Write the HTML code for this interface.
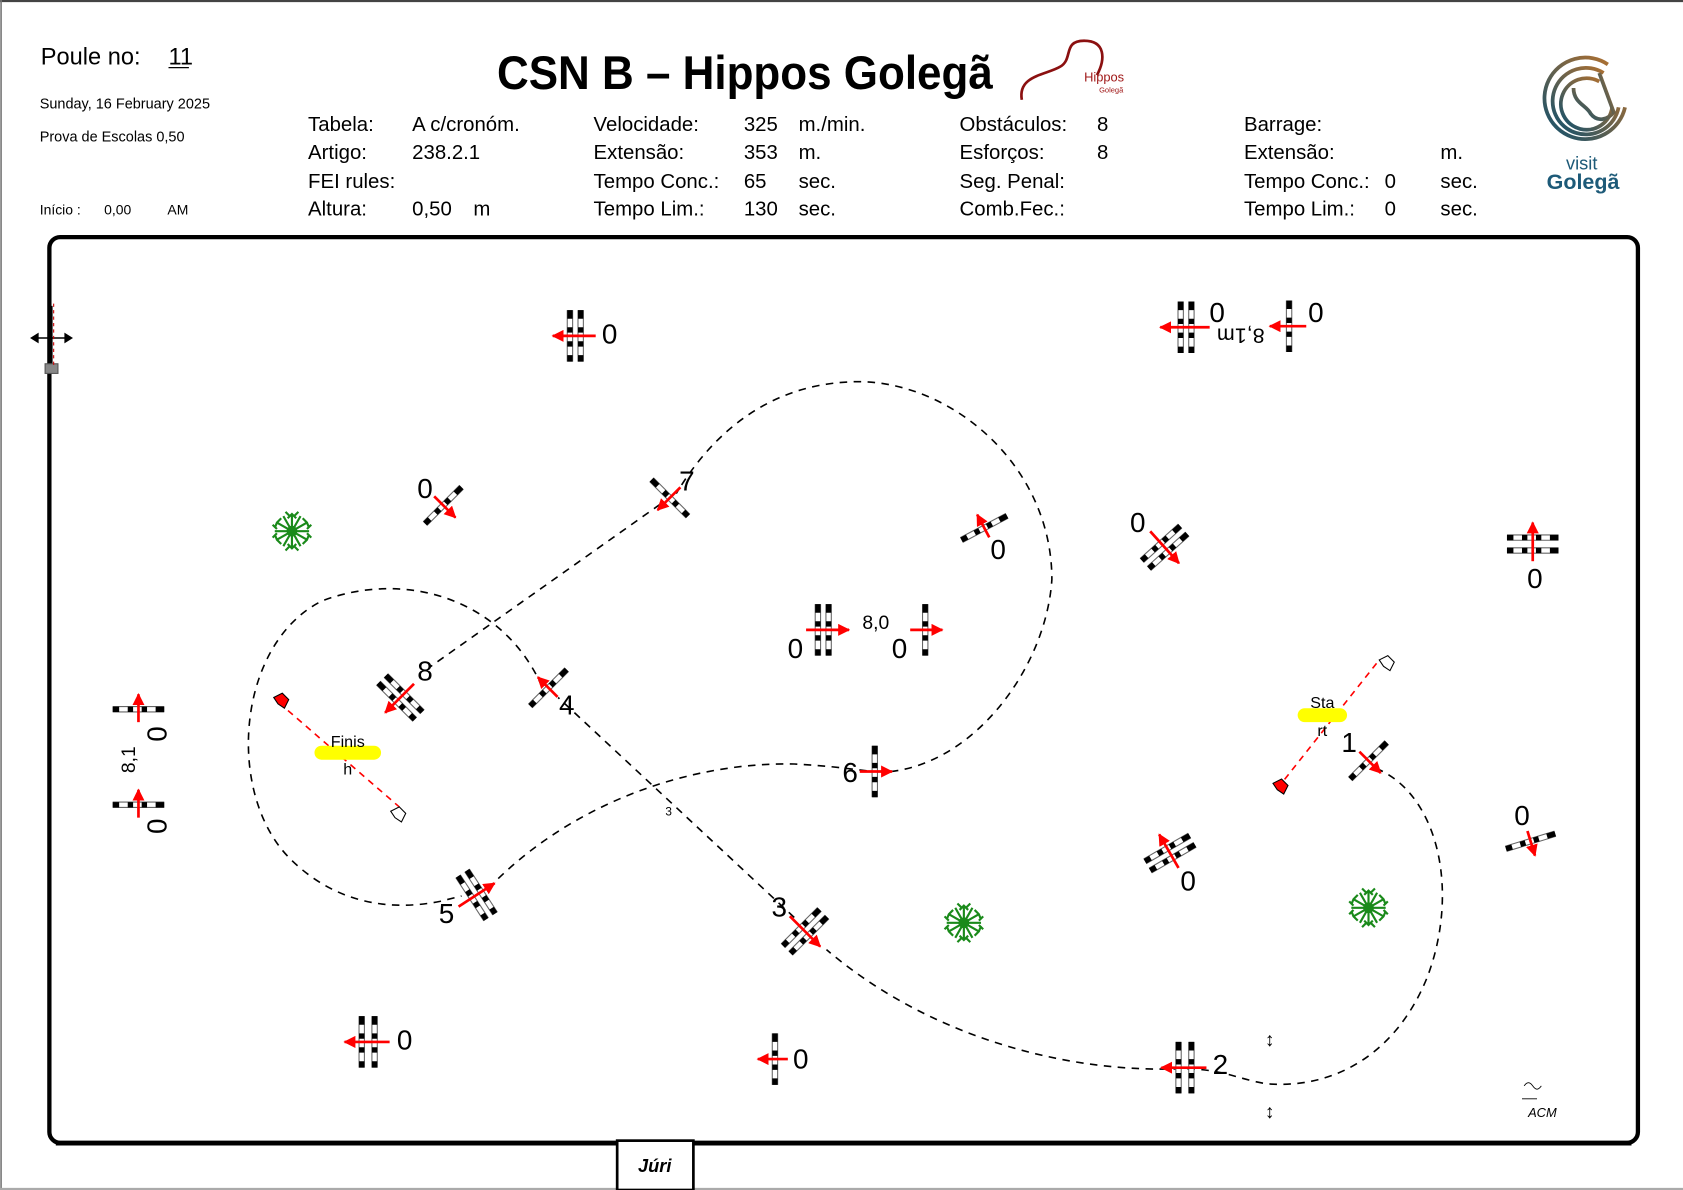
<!DOCTYPE html>
<html><head><meta charset="utf-8"><style>
html,body{margin:0;padding:0;background:#fff;}
svg{display:block;}
text{font-family:"Liberation Sans",sans-serif;}
</style></head><body>
<svg width="1683" height="1190" viewBox="0 0 1568 1109" preserveAspectRatio="none" xmlns="http://www.w3.org/2000/svg">
<defs>
<marker id="ah" viewBox="0 0 10 10" refX="9" refY="5" markerWidth="4.5" markerHeight="4.5" orient="auto"><path d="M0,0 L10,5 L0,10 z" fill="#f00"/></marker>
<linearGradient id="lg" x1="0" y1="1" x2="1" y2="0"><stop offset="0" stop-color="#0f4f6e"/><stop offset="1" stop-color="#c0742a"/></linearGradient>
<g id="pole"><line x1="0" y1="-24" x2="0" y2="24" stroke="#666" stroke-width="6"/><line x1="0" y1="-23" x2="0" y2="23" stroke="#fff" stroke-width="4"/><line x1="0" y1="-24" x2="0" y2="24" stroke="#000" stroke-width="5" stroke-dasharray="8 8 5 8 5 8 8"/></g>
<g id="tree" fill="none" stroke="#1a8a1a" stroke-width="2"><circle r="4" fill="#0a5a0a"/><path d="M0,0 L0,-16 M0,0 L14,-8 M0,0 L14,8 M0,0 L0,16 M0,0 L-14,8 M0,0 L-14,-8 M0,0 L8,-14 M0,0 L16,0 M0,0 L8,14 M0,0 L-8,14 M0,0 L-16,0 M0,0 L-8,-14 M-4,-12 L0,-16 L4,-12 M10,-12 L14,-8 L16,-3 M16,3 L14,8 L10,12 M4,12 L0,16 L-4,12 M-10,12 L-14,8 L-16,3 M-16,-3 L-14,-8 L-10,-12 M-6,-18 L-2,-14 M6,-18 L2,-14 M18,-6 L14,-2 M18,6 L14,2 M-18,-6 L-14,-2 M-18,6 L-14,2 M-6,18 L-2,14 M6,18 L2,14"/></g>
</defs>
<rect x="0" y="0" width="1568" height="1109" fill="#fff"/>
<line x1="0" y1="1" x2="1568" y2="1" stroke="#444" stroke-width="2"/>
<line x1="1" y1="0" x2="1" y2="1109" stroke="#777" stroke-width="1.5"/>
<line x1="0" y1="1108" x2="1568" y2="1108" stroke="#aaa" stroke-width="2"/>

<!-- header -->
<text x="38" y="60" font-size="22">Poule no:</text>
<text x="157" y="60" font-size="22">11</text>
<line x1="157" y1="63" x2="176" y2="63" stroke="#000" stroke-width="1.2"/>
<text x="37" y="101" font-size="13.5">Sunday, 16 February 2025</text>
<text x="37" y="132" font-size="13.5">Prova de Escolas 0,50</text>
<text x="37" y="200" font-size="13">Início :</text>
<text x="97" y="200" font-size="13">0,00</text>
<text x="156" y="200" font-size="13">AM</text>
<text x="463" y="83" font-size="44" font-weight="bold" textLength="462" lengthAdjust="spacingAndGlyphs">CSN B – Hippos Golegã</text>
<path d="M952,93 C948,70 975,70 988,62 C1000,55 990,38 1010,38 C1030,38 1030,55 1022,70" fill="none" stroke="#8b1010" stroke-width="2.5"/>
<text x="1010" y="76" font-size="12" fill="#a01818">Hippos</text>
<text x="1024" y="86" font-size="7" fill="#a01818">Golegã</text>
<g font-size="19">
<text x="287" y="122">Tabela:</text><text x="384" y="122">A c/cronóm.</text>
<text x="287" y="148">Artigo:</text><text x="384" y="148">238.2.1</text>
<text x="287" y="175">FEI rules:</text>
<text x="287" y="201">Altura:</text><text x="384" y="201">0,50</text><text x="441" y="201">m</text>
<text x="553" y="122">Velocidade:</text><text x="693" y="122">325</text><text x="744" y="122">m./min.</text>
<text x="553" y="148">Extensão:</text><text x="693" y="148">353</text><text x="744" y="148">m.</text>
<text x="553" y="175">Tempo Conc.:</text><text x="693" y="175">65</text><text x="744" y="175">sec.</text>
<text x="553" y="201">Tempo Lim.:</text><text x="693" y="201">130</text><text x="744" y="201">sec.</text>
<text x="894" y="122">Obstáculos:</text><text x="1022" y="122">8</text>
<text x="894" y="148">Esforços:</text><text x="1022" y="148">8</text>
<text x="894" y="175">Seg. Penal:</text>
<text x="894" y="201">Comb.Fec.:</text>
<text x="1159" y="122">Barrage:</text>
<text x="1159" y="148">Extensão:</text><text x="1342" y="148">m.</text>
<text x="1159" y="175">Tempo Conc.:</text><text x="1290" y="175">0</text><text x="1342" y="175">sec.</text>
<text x="1159" y="201">Tempo Lim.:</text><text x="1290" y="201">0</text><text x="1342" y="201">sec.</text>
</g>
<g fill="none" stroke="url(#lg)" stroke-width="3.5">
<path d="M1498,60 A38,38 0 1 0 1514,100"/>
<path d="M1494,68 A31,31 0 1 0 1508,100"/>
<path d="M1490,76 A24,24 0 1 0 1502,100"/>
<path d="M1466,82 C1466,96 1478,98 1482,106 C1488,114 1498,112 1504,104"/>
<path d="M1490,68 L1504,106"/>
</g>
<text x="1459" y="158" font-size="17" fill="#1d5a78">visit</text>
<text x="1441" y="176" font-size="20" font-weight="bold" fill="#1d5a78">Golegã</text>

<!-- arena -->
<rect x="46" y="221" width="1480" height="844" rx="10" fill="none" stroke="#000" stroke-width="4"/>
<line x1="52" y1="1066" x2="1520" y2="1066" stroke="#000" stroke-width="3"/>
<rect x="575" y="1063" width="71" height="46" fill="#fff" stroke="#000" stroke-width="2.5"/>
<text x="610" y="1092" font-size="17" font-style="italic" font-weight="bold" text-anchor="middle" font-family="Liberation Serif">Júri</text>

<!-- top-left icon -->
<line x1="48" y1="285" x2="48" y2="345" stroke="#000" stroke-width="2"/>
<line x1="30" y1="315" x2="66" y2="315" stroke="#000" stroke-width="1.5"/>
<path d="M28,315 L36,310 L36,320 z M68,315 L60,310 L60,320 z" fill="#000"/>
<rect x="42" y="339" width="12" height="9" fill="#888" stroke="#555"/>
<line x1="50" y1="283" x2="50" y2="340" stroke="#c00" stroke-width="1" stroke-dasharray="3 3"/>

<!-- course path -->
<g fill="none" stroke="#000" stroke-width="1.5" stroke-dasharray="7 6">
<path d="M1282,716 C1340,740 1360,830 1330,910 C1300,985 1240,1015 1180,1010 C1150,1005 1140,996 1100,996 C1000,1000 870,970 770,885"/>
<path d="M740,855 L520,650"/>
<path d="M505,640 C470,560 380,530 300,560 C220,600 210,740 270,800 C310,840 360,850 410,840 L430,835"/>
<path d="M455,828 C530,750 640,710 740,712 C780,714 800,718 815,719"/>
<path d="M830,719 C910,710 975,620 980,540 C980,430 880,350 790,356 C710,360 660,410 630,460"/>
<path d="M615,470 L400,622"/>
</g>
<text x="623" y="760" font-size="11" text-anchor="middle">3</text>

<!-- start / finish -->
<line x1="1190" y1="735" x2="1285" y2="615" stroke="#f00" stroke-width="1.5" stroke-dasharray="6 5"/>
<path d="M1186,730 l8,-4 l6,6 l-4,8 l-6,-4 z" fill="#f00" stroke="#000" stroke-width="1"/>
<path d="M1285,615 l8,-4 l6,6 l-4,8 l-6,-4 z" fill="#fff" stroke="#000" stroke-width="1"/>
<rect x="1209" y="660" width="46" height="13" rx="6.5" fill="#ff0"/>
<text x="1232" y="660" font-size="15" text-anchor="middle">Sta</text>
<text x="1232" y="686" font-size="15" text-anchor="middle">rt</text>
<line x1="260" y1="655" x2="372" y2="752" stroke="#f00" stroke-width="1.5" stroke-dasharray="6 5"/>
<path d="M255,650 l8,-4 l6,6 l-4,8 l-6,-4 z" fill="#f00" stroke="#000" stroke-width="1"/>
<path d="M364,756 l8,-4 l6,6 l-4,8 l-6,-4 z" fill="#fff" stroke="#000" stroke-width="1"/>
<rect x="293" y="695" width="62" height="13" rx="6.5" fill="#ff0"/>
<text x="324" y="696" font-size="15" text-anchor="middle">Finis</text>
<text x="324" y="722" font-size="15" text-anchor="middle">h</text>

<!-- obstacles -->
<g transform="translate(536,313)"><use href="#pole" x="-5"/><use href="#pole" x="5"/><line x1="19" y1="0" x2="-21" y2="0" stroke="#f00" stroke-width="2.5" marker-end="url(#ah)"/></g>
<text x="568" y="320" font-size="26" text-anchor="middle">0</text>
<g transform="translate(1105,305)"><use href="#pole" x="-5"/><use href="#pole" x="5"/><line x1="22" y1="0" x2="-24" y2="0" stroke="#f00" stroke-width="2.5" marker-end="url(#ah)"/></g>
<g transform="translate(1201,304)"><use href="#pole"/><line x1="16" y1="0" x2="-18" y2="0" stroke="#f00" stroke-width="2.5" marker-end="url(#ah)"/></g>
<text x="1134" y="300" font-size="26" text-anchor="middle">0</text>
<text x="1226" y="300" font-size="26" text-anchor="middle">0</text>
<text transform="translate(1156,306) rotate(180)" font-size="20" text-anchor="middle">8,1m</text>
<g transform="translate(413,471) rotate(45)"><use href="#pole"/><line x1="-12" y1="0" x2="16" y2="0" stroke="#f00" stroke-width="2.5" marker-end="url(#ah)"/></g>
<text x="396" y="464" font-size="26" text-anchor="middle">0</text>
<g transform="translate(624,464) rotate(-45)"><use href="#pole"/><line x1="14" y1="0" x2="-16" y2="0" stroke="#f00" stroke-width="2.5" marker-end="url(#ah)"/></g>
<text x="640" y="457" font-size="26" text-anchor="middle">7</text>
<g transform="translate(917,492) rotate(62)"><use href="#pole"/><line x1="10" y1="0" x2="-14" y2="0" stroke="#f00" stroke-width="2.5" marker-end="url(#ah)"/></g>
<text x="930" y="521" font-size="26" text-anchor="middle">0</text>
<g transform="translate(1085,510) rotate(48)"><use href="#pole" x="-5"/><use href="#pole" x="5"/><line x1="-20" y1="0" x2="20" y2="0" stroke="#f00" stroke-width="2.5" marker-end="url(#ah)"/></g>
<text x="1060" y="496" font-size="26" text-anchor="middle">0</text>
<g transform="translate(1428,507) rotate(90)"><use href="#pole" x="-6"/><use href="#pole" x="6"/><line x1="16" y1="0" x2="-20" y2="0" stroke="#f00" stroke-width="2.5" marker-end="url(#ah)"/></g>
<text x="1430" y="548" font-size="26" text-anchor="middle">0</text>
<g transform="translate(767,587)"><use href="#pole" x="-5"/><use href="#pole" x="5"/><line x1="-16" y1="0" x2="24" y2="0" stroke="#f00" stroke-width="2.5" marker-end="url(#ah)"/></g>
<g transform="translate(862,587)"><use href="#pole"/><line x1="-14" y1="0" x2="16" y2="0" stroke="#f00" stroke-width="2.5" marker-end="url(#ah)"/></g>
<text x="741" y="613" font-size="26" text-anchor="middle">0</text>
<text x="838" y="613" font-size="26" text-anchor="middle">0</text>
<text x="816" y="586" font-size="18" text-anchor="middle">8,0</text>
<g transform="translate(373,650) rotate(-45)"><use href="#pole" x="-5"/><use href="#pole" x="5"/><line x1="18" y1="0" x2="-20" y2="0" stroke="#f00" stroke-width="2.5" marker-end="url(#ah)"/></g>
<text x="396" y="634" font-size="26" text-anchor="middle">8</text>
<g transform="translate(511,641) rotate(45)"><use href="#pole"/><line x1="12" y1="0" x2="-14" y2="0" stroke="#f00" stroke-width="2.5" marker-end="url(#ah)"/></g>
<text x="528" y="666" font-size="26" text-anchor="middle">4</text>
<g transform="translate(1275,709) rotate(45)"><use href="#pole"/><line x1="-12" y1="0" x2="16" y2="0" stroke="#f00" stroke-width="2.5" marker-end="url(#ah)"/></g>
<text x="1257" y="701" font-size="26" text-anchor="middle">1</text>
<g transform="translate(129,661) rotate(90)"><use href="#pole"/><line x1="12" y1="0" x2="-14" y2="0" stroke="#f00" stroke-width="2.5" marker-end="url(#ah)"/></g>
<g transform="translate(129,750) rotate(90)"><use href="#pole"/><line x1="12" y1="0" x2="-14" y2="0" stroke="#f00" stroke-width="2.5" marker-end="url(#ah)"/></g>
<text transform="translate(155,684) rotate(-90)" font-size="26" text-anchor="middle">0</text>
<text transform="translate(155,770) rotate(-90)" font-size="26" text-anchor="middle">0</text>
<text transform="translate(126,708) rotate(-90)" font-size="18" text-anchor="middle">8,1</text>
<g transform="translate(815,719)"><use href="#pole"/><line x1="-14" y1="0" x2="16" y2="0" stroke="#f00" stroke-width="2.5" marker-end="url(#ah)"/></g>
<text x="792" y="729" font-size="26" text-anchor="middle">6</text>
<g transform="translate(444,834) rotate(-33)"><use href="#pole" x="-5"/><use href="#pole" x="5"/><line x1="-20" y1="0" x2="20" y2="0" stroke="#f00" stroke-width="2.5" marker-end="url(#ah)"/></g>
<text x="416" y="860" font-size="26" text-anchor="middle">5</text>
<g transform="translate(750,868) rotate(45)"><use href="#pole" x="-5"/><use href="#pole" x="5"/><line x1="-20" y1="0" x2="20" y2="0" stroke="#f00" stroke-width="2.5" marker-end="url(#ah)"/></g>
<text x="726" y="854" font-size="26" text-anchor="middle">3</text>
<g transform="translate(1090,795) rotate(60)"><use href="#pole" x="-5"/><use href="#pole" x="5"/><line x1="16" y1="0" x2="-20" y2="0" stroke="#f00" stroke-width="2.5" marker-end="url(#ah)"/></g>
<text x="1107" y="830" font-size="26" text-anchor="middle">0</text>
<g transform="translate(1426,784) rotate(73)"><use href="#pole"/><line x1="-10" y1="0" x2="14" y2="0" stroke="#f00" stroke-width="2.5" marker-end="url(#ah)"/></g>
<text x="1418" y="769" font-size="26" text-anchor="middle">0</text>
<g transform="translate(343,971)"><use href="#pole" x="-6"/><use href="#pole" x="6"/><line x1="20" y1="0" x2="-22" y2="0" stroke="#f00" stroke-width="2.5" marker-end="url(#ah)"/></g>
<text x="377" y="978" font-size="26" text-anchor="middle">0</text>
<g transform="translate(722,987)"><use href="#pole"/><line x1="12" y1="0" x2="-16" y2="0" stroke="#f00" stroke-width="2.5" marker-end="url(#ah)"/></g>
<text x="746" y="996" font-size="26" text-anchor="middle">0</text>
<g transform="translate(1104,995)"><use href="#pole" x="-6"/><use href="#pole" x="6"/><line x1="20" y1="0" x2="-22" y2="0" stroke="#f00" stroke-width="2.5" marker-end="url(#ah)"/></g>
<text x="1137" y="1001" font-size="26" text-anchor="middle">2</text>

<!-- trees -->
<use href="#tree" x="272" y="495"/>
<use href="#tree" x="898" y="860"/>
<use href="#tree" x="1275" y="846"/>

<text x="1183" y="975" font-size="18" text-anchor="middle">↕</text>
<text x="1183" y="1042" font-size="18" text-anchor="middle">↕</text>
<text x="1437" y="1041" font-size="12" font-style="italic" text-anchor="middle">ACM</text>
<path d="M1420,1012 q4,-6 8,0 q4,6 8,0 M1418,1024 l14,0" fill="none" stroke="#000" stroke-width="0.8"/>
</svg>
</body></html>
